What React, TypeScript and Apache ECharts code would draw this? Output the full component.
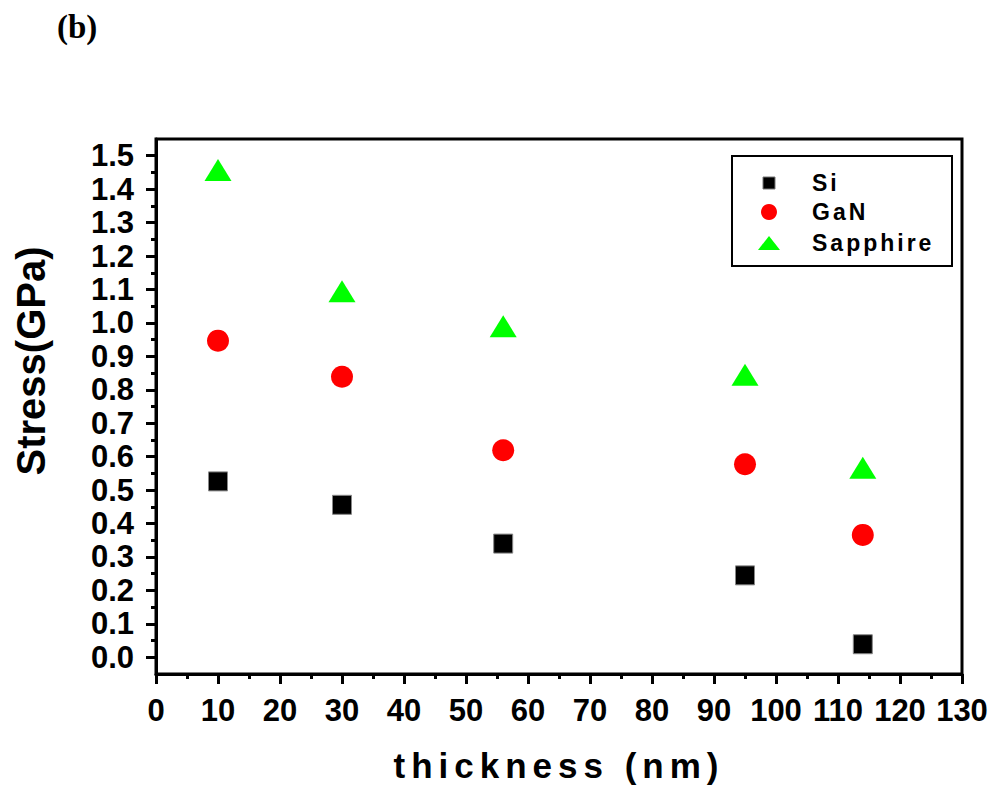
import React, { useEffect, useRef } from "react";
import * as echarts from "echarts";

const seriesNames = ["Si", "GaN", "Sapphire"];
const thickness = [10, 30, 56, 95, 114];
const siStress = [0.526, 0.456, 0.34, 0.245, 0.039];
const ganStress = [0.947, 0.839, 0.619, 0.577, 0.366];
const sapphireStress = [1.457, 1.095, 0.99, 0.845, 0.567];
const yTickValues = [0, 0.1, 0.2, 0.3, 0.4, 0.5, 0.6, 0.7, 0.8, 0.9, 1.0, 1.1, 1.2, 1.3, 1.4, 1.5];
const yMinorTickValues = [0.05, 0.15, 0.25, 0.35, 0.45, 0.55, 0.65, 0.75, 0.85, 0.95, 1.05, 1.15, 1.25, 1.35, 1.45];

const FONT = "'Liberation Sans', Arial, sans-serif";

export default function App() {
  const ref = useRef<HTMLDivElement>(null);
  useEffect(() => {
    document.body.style.margin = "0";
    const chart = echarts.init(ref.current!, null, { renderer: "svg" });
    const pair = (ys: number[]) => thickness.map((x, i) => [x, ys[i]]);
    const gL = 156, gT = 139, gW = 806, gH = 535;
    const legendRows = [
      { y: 183, shape: { type: "rect", shape: { x: 763, y: 177, width: 12, height: 12 }, style: { fill: "#000", stroke: "#777", lineWidth: 1 } } },
      { y: 212, shape: { type: "circle", shape: { cx: 769, cy: 212, r: 8 }, style: { fill: "#ff0000" } } },
      { y: 243, shape: { type: "polygon", shape: { points: [[769, 236], [780, 250], [758, 250]] }, style: { fill: "#00ff00" } } },
    ];
    chart.setOption({
      animation: false,
      grid: { left: gL, top: gT, width: gW, height: gH, show: true, borderColor: "#000", borderWidth: 3, backgroundColor: "transparent" },
      xAxis: {
        type: "value", min: 0, max: 130, interval: 10,
        axisLine: { show: true, onZero: false, lineStyle: { color: "#000", width: 3 } },
        axisTick: { show: true, inside: false, length: 10, lineStyle: { color: "#000", width: 3 } },
        minorTick: { show: true, splitNumber: 2, length: 5, lineStyle: { color: "#000", width: 3 } },
        splitLine: { show: false },
        axisLabel: { color: "#000", fontFamily: FONT, fontWeight: "bold", fontSize: 31, margin: 21, showMaxLabel: true, showMinLabel: true },
      },
      yAxis: [
        {
          type: "value", min: -0.05, max: 1.55,
          axisLine: { show: true, onZero: false, lineStyle: { color: "#000", width: 3 } },
          axisTick: { show: true, inside: false, length: 10, customValues: yTickValues, lineStyle: { color: "#000", width: 3 } },
          splitLine: { show: false },
          axisLabel: { color: "#000", fontFamily: FONT, fontWeight: "bold", fontSize: 31, margin: 22, customValues: yTickValues, formatter: (v: number) => v.toFixed(1) },
        },
        {
          type: "value", min: -0.05, max: 1.55, position: "left",
          axisLine: { show: false },
          axisTick: { show: true, inside: false, length: 5, customValues: yMinorTickValues, lineStyle: { color: "#000", width: 3 } },
          splitLine: { show: false },
          axisLabel: { show: false },
        },
      ],
      series: [
        { name: seriesNames[0], type: "scatter", data: pair(siStress), symbol: "rect", symbolSize: 19, itemStyle: { color: "#000", opacity: 1, borderColor: "#888", borderWidth: 1 } },
        { name: seriesNames[1], type: "scatter", data: pair(ganStress), symbol: "circle", symbolSize: 22, itemStyle: { color: "#ff0000", opacity: 1 } },
        { name: seriesNames[2], type: "scatter", data: pair(sapphireStress), symbol: "triangle", symbolSize: [27, 22], itemStyle: { color: "#00ff00", opacity: 1 } },
      ],
      graphic: [
        { type: "text", left: 57, top: 10, style: { text: "(b)", font: "bold 33px 'Liberation Serif', 'Times New Roman', serif", fill: "#000" } },
        { type: "text", x: 559, y: 765, style: { text: "thickness (nm)", font: `bold 35px ${FONT}`, fill: "#000", align: "center", verticalAlign: "middle" } },
        { type: "text", x: 31, y: 361, rotation: Math.PI / 2, style: { text: "Stress(GPa)", font: `bold 40px ${FONT}`, fill: "#000", align: "center", verticalAlign: "middle" } },
        { type: "rect", shape: { x: 732, y: 156, width: 220, height: 110 }, style: { fill: "#fff", stroke: "#000", lineWidth: 2 }, z: 10 },
        ...legendRows.map((r) => ({ ...r.shape, z: 11 })),
        ...legendRows.map((r, i) => ({ type: "text", x: 812, y: r.y, z: 11, style: { text: seriesNames[i], font: `bold 23px ${FONT}`, fill: "#000", verticalAlign: "middle" } })),
      ],
    });
    return () => chart.dispose();
  }, []);
  return (
    <>
      <style>{`#chart text[style*="35px"]{letter-spacing:6px} #chart text[style*="23px"]{letter-spacing:3px}`}</style>
      <div id="chart" ref={ref} style={{ position: "absolute", left: 0, top: 0, width: 996, height: 789 }} />
    </>
  );
}
